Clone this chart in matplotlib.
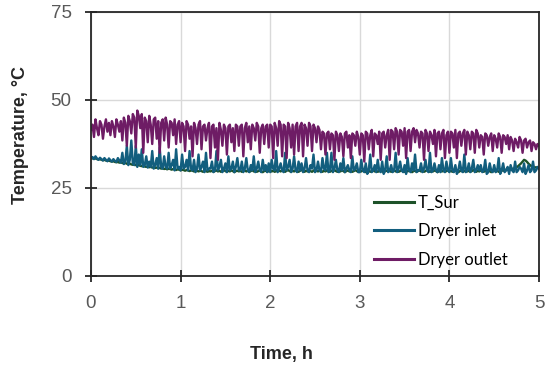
import numpy as np
import matplotlib.pyplot as plt

# temperatures, one sample per minute over 5 h
t_sur = [
    33.5, 33.4, 33.3, 33.4, 33.2, 33.1, 33.2, 33.0, 32.9, 33.0,
    32.8, 32.7, 32.8, 32.6, 32.5, 32.6, 32.4, 32.3, 32.4, 32.2,
    32.3, 32.1, 32.0, 32.1, 31.9, 31.8, 31.9, 31.7, 31.6, 31.7,
    31.5, 31.4, 31.5, 31.3, 31.2, 31.3, 31.1, 31.0, 31.1, 30.9,
    31.0, 30.8, 30.9, 30.7, 30.8, 30.6, 30.7, 30.5, 30.6, 30.4,
    30.5, 30.3, 30.5, 30.4, 30.2, 30.4, 30.3, 30.1, 30.3, 30.2,
    30.0, 30.2, 30.1, 29.9, 30.1, 30.0, 29.8, 30.0, 29.9, 29.7,
    30.0, 29.9, 29.7, 29.9, 29.8, 29.6, 29.9, 29.8, 29.6, 29.8,
    29.7, 29.9, 29.6, 29.8, 30.0, 29.7, 29.9, 29.6, 29.8, 30.1,
    29.8, 29.6, 29.9, 29.7, 30.0, 29.8, 29.5, 29.8, 29.9, 29.7,
    29.9, 29.6, 29.8, 30.0, 29.7, 29.9, 29.6, 29.8, 30.1, 29.7,
    29.9, 29.6, 29.8, 30.0, 29.7, 29.5, 29.8, 29.9, 29.6, 29.8,
    30.0, 29.7, 29.9, 29.6, 29.8, 30.2, 29.9, 29.7, 30.0, 29.8,
    29.6, 29.9, 30.1, 29.8, 29.6, 29.9, 29.7, 30.0, 29.8, 29.6,
    29.9, 30.1, 29.8, 29.6, 29.9, 29.7, 30.0, 29.8, 29.6, 29.9,
    30.2, 29.9, 29.7, 30.0, 29.8, 29.6, 29.9, 29.7, 30.0, 29.8,
    29.6, 29.9, 29.7, 30.1, 29.8, 29.6, 29.9, 29.7, 30.0, 29.8,
    29.5, 29.8, 30.0, 29.7, 29.9, 29.6, 29.8, 30.1, 29.8, 29.6,
    29.9, 29.7, 30.0, 29.8, 29.5, 29.8, 29.9, 29.6, 29.8, 30.0,
    29.7, 29.9, 29.6, 29.8, 30.1, 29.7, 29.5, 29.8, 29.9, 29.7,
    29.9, 29.6, 29.8, 30.0, 29.7, 29.9, 29.6, 29.8, 30.1, 29.8,
    29.6, 29.9, 29.7, 30.0, 29.8, 29.5, 29.8, 29.9, 29.6, 29.8,
    30.0, 29.7, 29.9, 29.6, 29.8, 30.1, 29.8, 29.6, 29.9, 29.7,
    30.0, 29.8, 29.5, 29.8, 30.0, 29.7, 29.9, 29.6, 29.8, 30.0,
    29.7, 29.9, 29.6, 29.8, 30.1, 29.7, 29.5, 29.8, 29.9, 29.6,
    29.8, 30.0, 29.7, 29.9, 29.6, 29.8, 30.1, 29.8, 29.6, 29.9,
    29.7, 30.0, 29.8, 29.6, 29.9, 29.7, 30.0, 29.8, 29.5, 29.8,
    30.0, 29.7, 29.9, 29.6, 29.8, 30.1, 29.9, 30.0, 30.2, 30.1,
    30.3, 30.2, 30.5, 30.4, 30.7, 30.9, 31.2, 31.6, 32.0, 32.5,
    33.0, 32.8, 32.4, 31.9, 31.5, 31.2, 31.0, 30.8, 30.9, 30.7,
    30.6,
]
dryer_inlet = [
    33.5, 33.8, 33.2, 34.0, 33.4, 33.0, 33.6, 33.2, 32.8, 33.5,
    33.0, 32.6, 33.4, 32.9, 32.5, 33.2, 32.7, 32.4, 33.5, 32.8,
    32.2, 35.0, 31.8, 32.5, 37.0, 31.5, 33.0, 38.5, 32.0, 31.5,
    37.0, 31.0, 34.5, 31.5, 36.0, 31.0, 31.5, 34.0, 30.8, 32.5,
    31.0, 35.5, 30.5, 31.5, 33.5, 30.5, 36.5, 31.0, 30.5, 34.0,
    31.0, 30.5, 35.0, 30.5, 31.5, 33.0, 30.0, 36.0, 30.5, 31.0,
    30.0, 34.5, 30.5, 31.0, 33.0, 30.0, 35.5, 30.5, 30.0, 33.0,
    29.5, 30.5, 34.5, 30.0, 31.0, 32.5, 29.5, 35.0, 30.0, 30.5,
    30.5, 32.5, 29.5, 30.0, 35.5, 30.0, 31.0, 33.0, 29.5, 30.5,
    32.0, 29.5, 34.0, 30.0, 30.5, 32.5, 29.5, 31.0, 33.5, 30.0,
    30.0, 32.5, 29.5, 30.5, 33.5, 30.0, 29.5, 31.5, 30.0, 34.0,
    29.5, 30.5, 32.5, 30.0, 29.5, 33.0, 30.0, 31.5, 29.5, 32.0,
    29.5, 33.0, 30.5, 30.0, 35.5, 29.5, 30.5, 32.0, 30.0, 29.5,
    35.0, 30.0, 31.0, 33.0, 29.5, 30.5, 34.0, 30.0, 29.5, 32.5,
    30.0, 32.0, 29.5, 30.5, 33.5, 30.0, 29.5, 31.5, 30.5, 34.5,
    29.5, 30.0, 32.5, 30.0, 29.5, 33.5, 30.5, 30.0, 35.0, 29.5,
    30.0, 35.0, 29.5, 30.5, 33.0, 30.0, 29.5, 32.0, 30.0, 33.5,
    29.5, 30.5, 31.5, 30.0, 29.5, 34.0, 30.0, 30.5, 32.0, 29.5,
    29.5, 33.0, 30.0, 29.5, 32.0, 29.0, 30.0, 34.5, 29.5, 30.0,
    31.5, 29.5, 33.0, 30.0, 29.5, 32.5, 29.0, 30.0, 34.0, 29.5,
    30.0, 31.5, 29.5, 30.0, 35.0, 29.5, 30.5, 32.5, 30.0, 29.5,
    31.5, 29.0, 33.5, 30.0, 29.5, 32.0, 30.0, 34.5, 29.5, 30.0,
    30.0, 32.0, 29.5, 30.5, 33.0, 30.0, 29.5, 35.0, 29.5, 30.0,
    32.0, 30.0, 29.5, 31.5, 29.5, 33.5, 30.0, 29.5, 32.5, 30.0,
    29.5, 33.5, 30.0, 29.5, 31.5, 29.0, 30.0, 32.5, 30.0, 29.5,
    34.5, 29.5, 30.0, 32.0, 29.5, 30.5, 33.0, 29.5, 30.0, 31.5,
    30.0, 31.5, 29.5, 30.0, 33.0, 29.0, 29.5, 32.0, 30.0, 29.5,
    31.5, 29.5, 30.0, 33.5, 29.0, 30.0, 32.0, 29.5, 30.0, 31.0,
    29.0, 31.5, 30.0, 29.5, 32.5, 29.5, 30.0, 31.0, 30.5, 29.5,
    32.0, 29.0, 30.0, 31.5, 29.5, 30.0, 32.5, 29.5, 30.0, 31.0,
    30.5,
]
dryer_outlet = [
    41.5, 43.0, 39.5, 44.5, 42.0, 40.0, 44.0, 43.0, 39.0, 42.5,
    44.5, 41.0, 43.5, 40.0, 44.0, 42.5, 39.5, 44.5, 43.0, 41.0,
    44.0, 38.5, 45.0, 43.5, 37.0, 45.5, 44.0, 40.5, 46.0, 45.0,
    36.5, 47.0, 45.5, 42.0, 46.0, 35.0, 45.0, 44.0, 38.0, 45.5,
    43.0, 37.5, 44.5, 45.0, 39.0, 44.0, 35.0, 43.5, 44.5, 38.5,
    45.0, 43.0, 36.5, 44.0, 43.5, 40.0, 44.5, 37.5, 43.0, 44.0,
    38.0, 43.5, 42.5, 35.5, 44.0, 43.0, 39.0, 42.5, 34.0, 43.5,
    42.0, 37.5, 43.0, 44.0, 36.0, 42.5, 43.0, 38.5, 42.0, 43.5,
    33.5, 42.5, 43.0, 36.5, 42.0, 33.0, 43.5, 41.5, 37.0, 43.0,
    42.0, 34.5, 42.5, 43.0, 38.0, 42.0, 35.5, 43.0, 42.5, 37.0,
    42.5, 43.0, 34.0, 42.0, 43.5, 38.0, 42.5, 36.0, 43.0, 42.0,
    38.5, 43.5, 42.5, 35.0, 42.0, 43.0, 37.5, 42.5, 43.0, 36.5,
    43.0, 42.5, 33.5, 43.5, 42.0, 37.0, 44.0, 43.0, 34.0, 43.0,
    42.5, 33.5, 43.5, 42.0, 36.5, 43.0, 34.5, 42.5, 43.5, 35.5,
    42.5, 43.5, 34.0, 43.0, 42.0, 37.0, 43.5, 42.5, 35.5, 43.0,
    42.0, 38.0, 42.5, 41.5, 36.0, 41.0, 40.5, 34.5, 40.5, 41.0,
    36.0, 40.5, 40.0, 33.0, 41.0, 40.0, 35.5, 40.5, 39.5, 34.0,
    40.5, 41.0, 36.5, 40.0, 33.5, 40.5, 40.0, 37.0, 41.0, 39.5,
    34.5, 40.5, 40.0, 32.5, 41.0, 40.5, 36.0, 40.0, 41.5, 34.0,
    40.5, 40.0, 37.5, 41.0, 33.0, 40.5, 41.0, 36.5, 40.0, 41.5,
    33.0, 41.5, 41.0, 36.0, 42.0, 41.0, 34.5, 41.5, 41.0, 37.0,
    42.0, 33.5, 41.0, 41.5, 35.5, 41.0, 42.0, 38.0, 41.5, 40.5,
    36.5, 41.0, 40.5, 33.0, 41.5, 40.5, 35.5, 41.0, 40.0, 37.5,
    41.5, 34.0, 40.5, 41.0, 36.0, 40.5, 41.5, 33.5, 40.0, 41.0,
    35.0, 41.0, 40.5, 36.5, 41.5, 33.5, 40.5, 41.0, 37.0, 40.5,
    41.5, 34.5, 41.0, 40.0, 36.0, 41.0, 40.5, 35.0, 41.5, 40.5,
    36.5, 40.0, 39.5, 34.5, 40.5, 40.0, 37.0, 39.5, 40.5, 35.5,
    40.0, 39.0, 36.5, 40.5, 39.5, 35.0, 40.0, 39.5, 37.5, 40.0,
    36.0, 39.5, 38.5, 35.5, 39.0, 38.0, 36.5, 39.5, 38.5, 35.0,
    38.5, 39.0, 36.5, 38.0, 38.5, 35.5, 38.0, 37.5, 36.0, 37.5,
    37.0,
]
time_h = np.linspace(0, 5, len(t_sur))

series_names = ['T_Sur', 'Dryer inlet', 'Dryer outlet']
series_colors = ['#1d5229', '#125e7e', '#6e1c65']

fig = plt.figure(figsize=(5.48, 3.70), dpi=100)
ax = fig.add_axes([91 / 548, 94 / 370, 448 / 548, 264 / 370])

for vals, name, col in zip([t_sur, dryer_inlet, dryer_outlet], series_names, series_colors):
    ax.plot(time_h, vals, color=col, lw=1.7, label=name)

ax.set_xlim(0, 5)
ax.set_ylim(0, 75)
ax.set_xticks([0, 1, 2, 3, 4, 5])
ax.set_yticks([0, 25, 50, 75])
ax.grid(True, color='#d9d9d9', lw=1.0)
ax.set_axisbelow(True)

for s in ax.spines.values():
    s.set_color('#262626')
    s.set_linewidth(1.3)

ax.tick_params(direction='inout', length=8, width=1.3, color='#262626',
               labelcolor='#595959', labelsize=13.5)
ax.tick_params(axis='y', pad=10)
ax.tick_params(axis='x', pad=10)
for lab in ax.get_xticklabels() + ax.get_yticklabels():
    lab.set_fontfamily('Liberation Sans')

fig.text(281 / 548, 1 - 355 / 370, 'Time, h', ha='center', va='center',
         fontsize=13, fontweight='bold', family='Liberation Sans', color='#262626')
fig.text(21 / 548, 1 - 135 / 370, 'Temperature, °C', ha='center', va='center',
         rotation=90, fontsize=13, fontweight='bold', family='Liberation Sans',
         color='#262626')

leg = ax.legend(loc='center left', bbox_to_anchor=(374 / 548, 1 - 231 / 370),
                bbox_transform=fig.transFigure, frameon=False, borderpad=0,
                borderaxespad=0, handlelength=2.4, handletextpad=0.25,
                labelspacing=0.75, prop={'family': 'Lato', 'size': 12})
for h in leg.get_lines():
    h.set_linewidth(2.2)

fig.savefig('out.png', dpi=100)
